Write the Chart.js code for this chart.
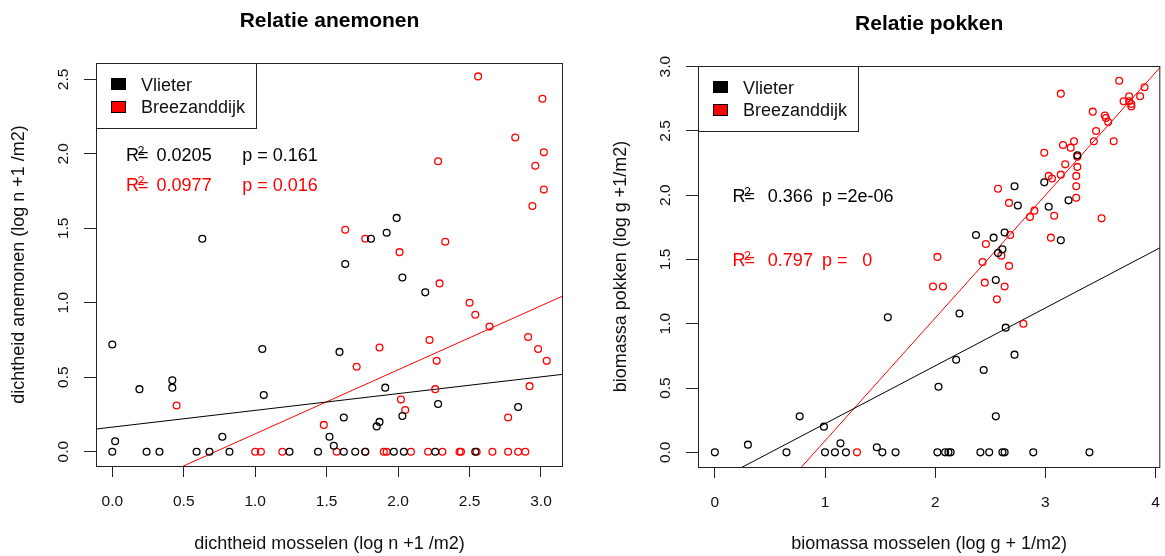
<!DOCTYPE html>
<html lang="nl">
<head>
<meta charset="utf-8">
<title>Relatie anemonen en pokken</title>
<script src="https://cdn.jsdelivr.net/npm/chart.js@4.4.1/dist/chart.umd.min.js"></script>
<style>
  html, body { margin: 0; padding: 0; background: #fff; }
  #wrap { position: relative; width: 1165px; height: 556px; }
  .paneel { position: absolute; top: 0; }
</style>
</head>
<body>
<div id="wrap">
  <canvas id="anemonen" class="paneel" width="582" height="556" style="left:0"></canvas>
  <canvas id="pokken" class="paneel" width="583" height="556" style="left:582px"></canvas>
</div>
<script>
const FONT = "'Liberation Sans', Arial, sans-serif";

const legendaNamen = ['Vlieter', 'Breezanddijk'];
const kleuren = ['#000000', '#ff0000'];

/* Anemonen: dichtheid mosselen (x) tegen dichtheid anemonen (y) */
const anemVlieterX = [0.63, 1.99, 1.81, 1.92, 1.63, 2.03, 2.19, 1.59, 1.91, 2.28,
  2.03, 2.84, 1.62, 1.87, 1.85, 1.52, 1.55, 0, 0.19, 0.42,
  0.42, 1.05, 1.06, 0.02, 0.77,
  0, 0.24, 0.33, 0.59, 0.68, 0.82, 1.24, 1.44, 1.62, 1.70, 1.77, 1.97, 2.04, 2.26, 2.54];
const anemVlieterY = [1.43, 1.57, 1.43, 1.47, 1.26, 1.17, 1.07, 0.67, 0.43, 0.32,
  0.24, 0.30, 0.23, 0.20, 0.17, 0.10, 0.04, 0.72, 0.42, 0.48,
  0.43, 0.69, 0.38, 0.07, 0.10,
  0, 0, 0, 0, 0, 0, 0, 0, 0, 0, 0, 0, 0, 0, 0];
const anemBreezX = [2.56, 3.01, 2.82, 3.02, 2.28, 2.96, 3.02, 2.94, 1.63, 1.77,
  2.33, 2.01, 2.29, 2.50, 2.54, 2.64, 2.91, 2.98, 3.04, 1.87,
  1.71, 2.22, 2.27, 2.26, 2.92, 2.02, 2.05, 2.77, 1.48, 0.45,
  1.00, 1.04, 1.19, 1.57, 1.77, 1.90, 1.92, 2.09, 2.21, 2.31, 2.43, 2.44, 2.55, 2.66, 2.77, 2.84, 2.89];
const anemBreezY = [2.52, 2.37, 2.11, 2.01, 1.95, 1.92, 1.76, 1.65, 1.49, 1.43,
  1.41, 1.34, 1.13, 1.00, 0.92, 0.84, 0.77, 0.69, 0.61, 0.70,
  0.57, 0.75, 0.61, 0.42, 0.44, 0.35, 0.28, 0.23, 0.18, 0.31,
  0, 0, 0, 0, 0, 0, 0, 0, 0, 0, 0, 0, 0, 0, 0, 0, 0];
// regressielijnen: [intercept, helling]
const anemFitVlieter = [0.165, 0.1125];
const anemFitBreez = [-0.310, 0.430];
const anemR2 = ['0.0205', '0.0977'];
const anemP = ['0.161', '0.016'];
const anemXTicks = [0, 0.5, 1, 1.5, 2, 2.5, 3];
const anemYTicks = [0, 0.5, 1, 1.5, 2, 2.5];

/* Pokken: biomassa mosselen (x) tegen biomassa pokken (y) */
const pokVlieterX = [2.72, 2.99, 3.29, 2.75, 3.03, 3.21, 2.37, 2.53, 2.63, 2.57,
  2.61, 3.14, 2.55, 1.57, 2.22, 2.64, 2.19, 2.72, 2.44, 2.03,
  2.55, 1.47, 0.30, 0.77, 0.99, 1.14,
  0, 0.65, 1.00, 1.09, 1.19, 1.52, 1.64, 2.02, 2.09, 2.12, 2.14, 2.41, 2.49, 2.61, 2.63, 2.89, 3.40];
const pokVlieterY = [2.07, 2.10, 2.31, 1.92, 1.91, 1.96, 1.69, 1.67, 1.71, 1.55,
  1.58, 1.65, 1.34, 1.05, 1.08, 0.97, 0.72, 0.76, 0.64, 0.51,
  0.28, 0.04, 0.06, 0.28, 0.20, 0.07,
  0, 0, 0, 0, 0, 0, 0, 0, 0, 0, 0, 0, 0, 0, 0, 0, 0];
const pokBreezX = [3.67, 3.14, 3.90, 3.76, 3.86, 3.71, 3.76, 3.78, 3.78, 3.43,
  3.54, 3.55, 3.57, 3.46, 3.62, 3.44, 3.16, 3.26, 3.23, 2.99,
  3.29, 3.18, 3.29, 3.14, 3.03, 3.06, 3.28, 3.28, 3.28, 2.57,
  2.67, 2.90, 2.86, 3.08, 3.51, 2.68, 3.05, 2.46, 2.02, 2.43,
  2.60, 2.67, 1.98, 2.07, 2.45, 2.63, 2.56, 2.80, 1.29];
const pokBreezY = [2.89, 2.79, 2.84, 2.77, 2.77, 2.73, 2.73, 2.71, 2.69, 2.65,
  2.62, 2.60, 2.57, 2.50, 2.42, 2.42, 2.39, 2.42, 2.37, 2.33,
  2.30, 2.24, 2.22, 2.16, 2.15, 2.13, 2.15, 2.07, 1.98, 2.05,
  1.94, 1.88, 1.83, 1.84, 1.82, 1.69, 1.67, 1.62, 1.52, 1.48,
  1.53, 1.45, 1.29, 1.29, 1.32, 1.29, 1.19, 1.00, 0];
const pokFitVlieter = [-0.227, 0.450];
const pokFitBreez = [-0.865, 0.955];
const pokR2 = ['0.366', '0.797'];
const pokP = ['2e-06', '0'];
const pokXTicks = [0, 1, 2, 3, 4];
const pokYTicks = [0, 0.5, 1, 1.5, 2, 2.5, 3];

function punten(xs, ys) {
  return xs.map((x, i) => ({ x: x, y: ys[i] }));
}

function fitLijn(fit, bereik) {
  return bereik.map(x => ({ x: x, y: fit[0] + fit[1] * x }));
}

/** Kader, legenda en R2/p-teksten bovenop de grafiek */
const kaderPlugin = {
  id: 'kader',
  afterDraw(chart) {
    const o = chart.options.plugins.kader;
    const { ctx, chartArea: a, scales } = chart;
    ctx.save();
    ctx.strokeStyle = '#222';
    ctx.lineWidth = 1;
    ctx.strokeRect(a.left + 0.5, a.top + 0.5, a.right - a.left - 1, a.bottom - a.top);

    // legenda linksboven
    ctx.fillStyle = '#fff';
    ctx.fillRect(a.left + 0.5, a.top + 0.5, 160, 65);
    ctx.strokeRect(a.left + 0.5, a.top + 0.5, 160, 65);
    ctx.font = `18px ${FONT}`;
    ctx.textBaseline = 'middle';
    ctx.textAlign = 'left';
    legendaNamen.forEach((naam, i) => {
      const sy = Math.round(a.top + 15.3 + i * 22.8);
      ctx.fillStyle = kleuren[i];
      ctx.fillRect(a.left + 15, sy, 15, 12);
      ctx.strokeStyle = '#000';
      ctx.strokeRect(a.left + 15.5, sy + 0.5, 14, 11);
      ctx.fillStyle = '#111';
      ctx.fillText(naam, a.left + 45, a.top + 23.3 + i * 21.5);
    });

    // R2 en p-waarden
    o.regels.forEach(r => {
      const y = scales.y.getPixelForValue(r.y);
      const rx = scales.x.getPixelForValue(r.xR);
      ctx.fillStyle = r.kleur;
      ctx.font = `18px ${FONT}`;
      ctx.textBaseline = 'middle';
      ctx.fillText('R', rx, y);
      const rEind = rx + ctx.measureText('R').width;
      ctx.fillText('=', rEind - 1, y);
      r.delen.forEach(d => ctx.fillText(d.t, scales.x.getPixelForValue(d.x), y));
      ctx.font = `12.5px ${FONT}`;
      ctx.textBaseline = 'alphabetic';
      ctx.fillText('2', rEind - 1.5, y - 1.2);
    });
    ctx.restore();
  }
};

function maakPaneel(id, p) {
  const tickFont = { family: FONT, size: 15.5 };
  const titelFont = { family: FONT, size: 18 };
  return new Chart(document.getElementById(id), {
    type: 'scatter',
    data: {
      datasets: [
        { label: legendaNamen[0], data: punten(p.vx, p.vy), borderColor: kleuren[0] },
        { label: legendaNamen[1], data: punten(p.bx, p.by), borderColor: kleuren[1] },
        { type: 'line', data: fitLijn(p.fitV, p.xBereik), borderColor: kleuren[0], borderWidth: 1, pointRadius: 0, fill: false },
        { type: 'line', data: fitLijn(p.fitB, p.xBereik), borderColor: kleuren[1], borderWidth: 1, pointRadius: 0, fill: false }
      ].map(d => Object.assign({
        backgroundColor: 'rgba(0,0,0,0)',
        pointStyle: 'circle',
        pointRadius: 3.4,
        pointHoverRadius: 3.4,
        pointBorderWidth: 1.3
      }, d))
    },
    options: {
      responsive: false,
      animation: false,
      devicePixelRatio: 1,
      events: [],
      layout: { padding: { left: 0, top: 0, right: p.padRechts, bottom: 0 } },
      plugins: {
        legend: { display: false },
        tooltip: { enabled: false },
        title: {
          display: true,
          text: p.titel,
          fullSize: false,
          color: '#000',
          font: { family: FONT, size: 21, weight: 'bold' },
          padding: p.titelPad
        },
        kader: { regels: p.regels }
      },
      scales: {
        x: {
          type: 'linear',
          position: 'bottom',
          min: p.xBereik[0],
          max: p.xBereik[1],
          afterBuildTicks: s => { s.ticks = p.xTicks.map(v => ({ value: v })); },
          // vaste hoogte, geen extra ruimte voor de randlabels
          afterFit: s => { s.height = p.xHoogte; s.paddingLeft = 0; s.paddingRight = 0; },
          ticks: { autoSkip: false, maxRotation: 0, padding: 15.5, color: '#111', font: tickFont,
            callback: v => v.toFixed(p.xDec) },
          grid: { drawOnChartArea: false, tickLength: 11, color: '#222' },
          border: { display: false },
          title: { display: true, text: p.xTitel, color: '#111', font: titelFont, padding: { top: 0, bottom: 1.2 } }
        },
        y: {
          type: 'linear',
          position: 'left',
          min: p.yBereik[0],
          max: p.yBereik[1],
          afterBuildTicks: s => { s.ticks = p.yTicks.map(v => ({ value: v })); },
          afterFit: s => { s.width = p.yBreedte; s.paddingTop = 0; s.paddingBottom = 0; },
          ticks: { autoSkip: false, minRotation: 90, maxRotation: 90, crossAlign: 'center', padding: 9.25,
            color: '#111', font: tickFont, callback: v => v.toFixed(1) },
          grid: { drawOnChartArea: false, tickLength: 12, color: '#222' },
          border: { display: false },
          title: { display: true, text: p.yTitel, color: '#111', font: titelFont, padding: { top: p.yTitelPad, bottom: 0 } }
        }
      }
    },
    plugins: [kaderPlugin]
  });
}

maakPaneel('anemonen', {
  titel: 'Relatie anemonen',
  xTitel: 'dichtheid mosselen (log n +1 /m2)',
  yTitel: 'dichtheid anemonen (log n +1 /m2)',
  vx: anemVlieterX, vy: anemVlieterY, bx: anemBreezX, by: anemBreezY,
  fitV: anemFitVlieter, fitB: anemFitBreez,
  xBereik: [-0.114, 3.154], yBereik: [-0.096, 2.61],
  xTicks: anemXTicks, yTicks: anemYTicks, xDec: 1,
  padRechts: 19, xHoogte: 90, yBreedte: 96, yTitelPad: 8.2,
  titelPad: { top: 8.5, bottom: 29.3 },
  regels: [
    { kleur: kleuren[0], y: 1.986, xR: 0.096, delen: [{ x: 0.31, t: anemR2[0] }, { x: 0.909, t: 'p = ' + anemP[0] }] },
    { kleur: kleuren[1], y: 1.785, xR: 0.096, delen: [{ x: 0.31, t: anemR2[1] }, { x: 0.909, t: 'p = ' + anemP[1] }] }
  ]
});

maakPaneel('pokken', {
  titel: 'Relatie pokken',
  xTitel: 'biomassa mosselen (log g + 1/m2)',
  yTitel: 'biomassa pokken (log g +1/m2)',
  vx: pokVlieterX, vy: pokVlieterY, bx: pokBreezX, by: pokBreezY,
  fitV: pokFitVlieter, fitB: pokFitBreez,
  xBereik: [-0.153, 4.043], yBereik: [-0.114, 3.005],
  xTicks: pokXTicks, yTicks: pokYTicks, xDec: 0,
  padRechts: 2, xHoogte: 89, yBreedte: 116, yTitelPad: 28.2,
  titelPad: { top: 11.6, bottom: 29.2 },
  regels: [
    { kleur: kleuren[0], y: 1.983, xR: 0.16, delen: [{ x: 0.481, t: pokR2[0] }, { x: 0.972, t: 'p =' + pokP[0] }] },
    { kleur: kleuren[1], y: 1.486, xR: 0.16, delen: [{ x: 0.481, t: pokR2[1] }, { x: 0.972, t: 'p =' }, { x: 1.338, t: pokP[1] }] }
  ]
});
</script>
</body>
</html>
